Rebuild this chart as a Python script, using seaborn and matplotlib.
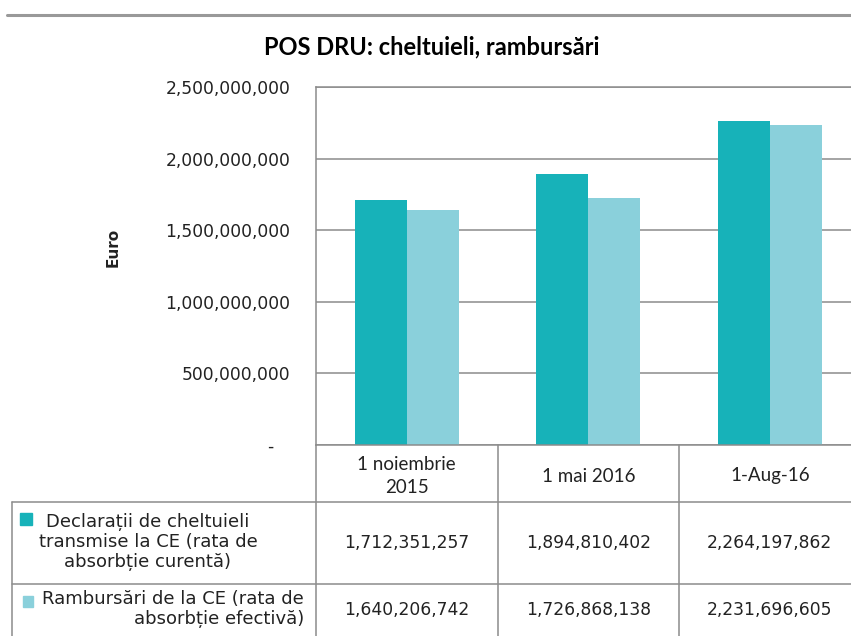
import pandas as pd
import matplotlib
matplotlib.use("Agg")
import matplotlib.pyplot as plt
import matplotlib.font_manager as fm
from matplotlib.lines import Line2D
from matplotlib.patches import Rectangle
from matplotlib.ticker import FuncFormatter
import seaborn as sns

dates = ["1 noiembrie\n2015", "1 mai 2016", "1-Aug-16"]
declaratii = [1712351257, 1894810402, 2264197862]
rambursari = [1640206742, 1726868138, 2231696605]
series_names = [
    "Declarații de cheltuieli\ntransmise la CE (rata de\nabsorbție curentă)",
    "Rambursări de la CE (rata de\nabsorbție efectivă)",
]
colors = ["#17B2B9", "#8AD0DB"]

df = pd.DataFrame({
    "date": dates * 2,
    "series": [series_names[0]] * 3 + [series_names[1]] * 3,
    "value": declaratii + rambursari,
})

sns.set_style("white")
plt.rcParams["font.family"] = ["DejaVu Sans"]

names = {f.name for f in fm.fontManager.ttflist}
narrow = "Liberation Sans Narrow" if "Liberation Sans Narrow" in names else "DejaVu Sans"
calib = "Lato" if "Lato" in names else "DejaVu Sans"

W, H = 851, 636
fig = plt.figure(figsize=(W / 100, H / 100), dpi=100)

def fx(px):
    return px / W

def fy(py):
    return 1 - py / H

grid_c = "#8c8c8c"
text_c = "#222222"

# plot area: left edge 316px, x-axis at 445px, each category 181.5px wide
left, top, bottom, colw = 316, 87, 445, 181.5
ax = fig.add_axes([fx(left), fy(bottom), 3 * colw / W, (bottom - top) / H])
sns.barplot(data=df, x="date", y="value", hue="series", palette=colors,
            width=0.573, gap=0, saturation=1, linewidth=0, legend=False, ax=ax)
ax.set_xlim(-0.5, 2.5)
ax.set_ylim(0, 2.5e9)
ax.set_yticks([0, 5e8, 1e9, 1.5e9, 2e9, 2.5e9])
ax.yaxis.set_major_formatter(FuncFormatter(lambda v, p: "-   " if v == 0 else f"{v:,.0f}"))
ax.yaxis.grid(True, color=grid_c, linewidth=1.1)
ax.set_axisbelow(True)
ax.tick_params(axis="y", length=0, pad=18.5, labelsize=12.3, labelcolor=text_c)
ax.tick_params(axis="x", length=0, labelbottom=False)
ax.set_xlabel("")
ax.set_ylabel("")
for s in ["left", "bottom", "top"]:
    ax.spines[s].set_color(grid_c)
    ax.spines[s].set_linewidth(1.1)
ax.spines["right"].set_visible(False)

# titles
fig.text(fx(432), fy(47), "POS DRU: cheltuieli, rambursări", ha="center", va="center",
         fontsize=17, fontweight="bold", family=calib, color="black")
fig.text(fx(113), fy(247), "Euro", rotation=90, ha="center", va="center",
         fontsize=11, fontweight="bold", color=text_c)

# data table lines
def hline(y, x0, x1, lw=1.1, c=grid_c):
    fig.add_artist(Line2D([fx(x0), fx(x1)], [fy(y), fy(y)], color=c, linewidth=lw))

def vline(x, y0, y1, lw=1.1, c=grid_c):
    fig.add_artist(Line2D([fx(x), fx(x)], [fy(y0), fy(y1)], color=c, linewidth=lw))

hline(14.5, 7, W, lw=2.2, c="#999999")
row_top, row_mid, row_bot = 502, 584, 640
hline(row_top, 12, W)
hline(row_mid, 12, W)
vline(12, row_top, row_bot)
vline(left, bottom, row_bot)
for i in range(1, 3):
    vline(left + i * colw, bottom, row_bot)

for i, d in enumerate(dates):
    cx = left + (i + 0.5) * colw
    fig.text(fx(cx), fy(476), d, ha="center", va="center", fontsize=13.5,
             family=calib, color=text_c, linespacing=1.4)
    fig.text(fx(cx), fy(543), f"{declaratii[i]:,}", ha="center", va="center",
             fontsize=12.3, color=text_c)
    fig.text(fx(cx), fy(610), f"{rambursari[i]:,}", ha="center", va="center",
             fontsize=12.3, color=text_c)

# row labels with legend keys
fig.add_artist(Rectangle((fx(20), fy(525)), 12 / W, 12 / H, color=colors[0]))
fig.text(fx(148), fy(542), series_names[0], ha="center", va="center", ma="center",
         fontsize=13, family=narrow, color=text_c, linespacing=1.15)
fig.add_artist(Rectangle((fx(23), fy(607)), 10 / W, 11 / H, color=colors[1]))
fig.text(fx(304), fy(609), series_names[1], ha="right", va="center", ma="right",
         fontsize=13, family=narrow, color=text_c, linespacing=1.15)

fig.savefig("out.png", dpi=100)
